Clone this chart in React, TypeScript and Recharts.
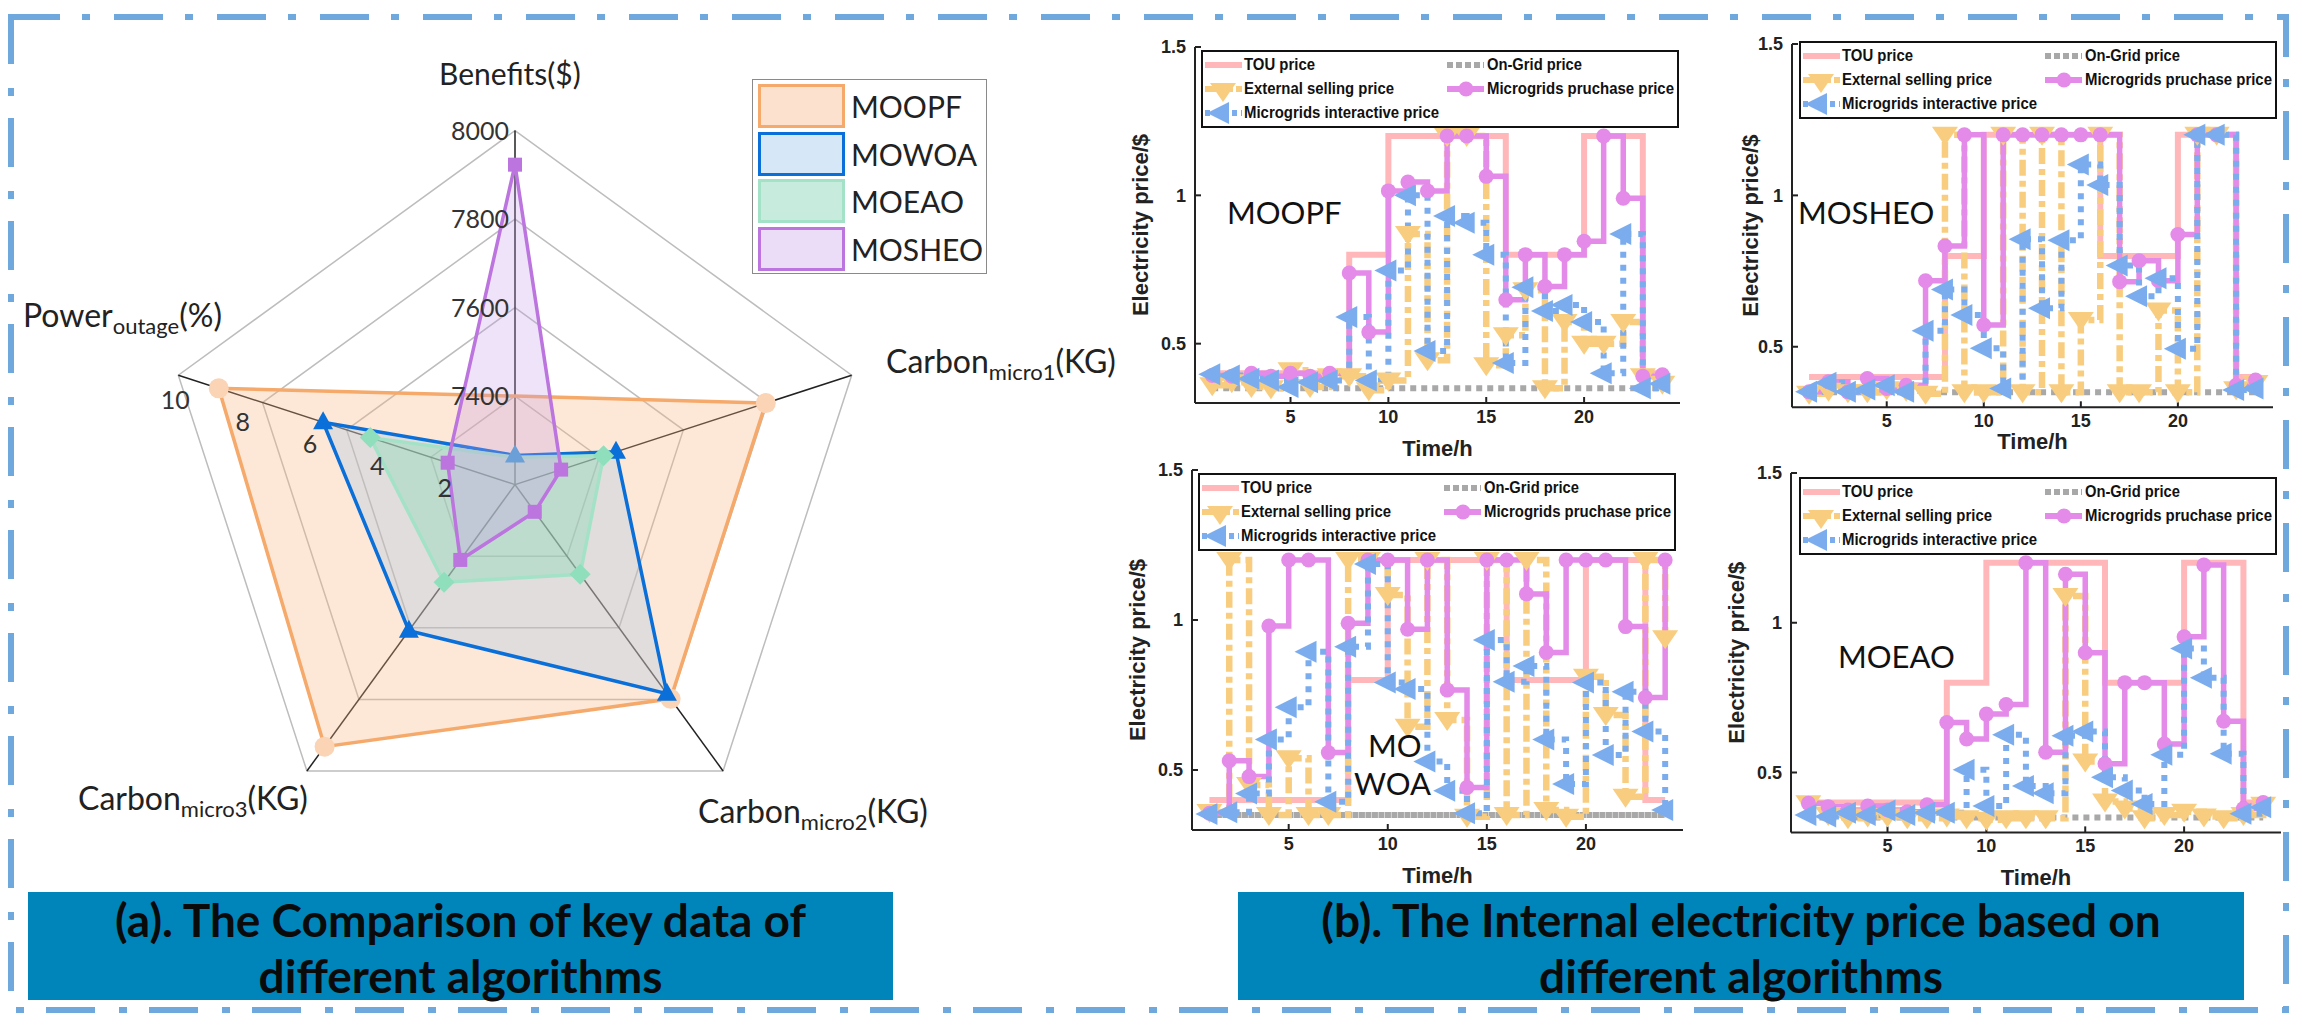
import {
  Line,
  LineChart,
  PolarAngleAxis,
  PolarGrid,
  PolarRadiusAxis,
  Radar,
  RadarChart,
  XAxis,
  YAxis,
} from "recharts";

// ---- panel (a) radar ----
const radarAxes = ["Benefits", "Carbon1", "Carbon2", "Carbon3", "Power"];
const axisMin = [7200, 0, 0, 0, 0];
const axisMax = [8000, 100, 100, 100, 10];

const moopfKey = [7400, 74.5, 74.8, 91.5, 8.8];
const mowoaKey = [7266, 30, 73, 51, 5.7];
const moeaoKey = [7262, 26.3, 31.3, 34.1, 4.3];
const mosheoKey = [7923, 13.7, 9.5, 26.3, 2.0];

const benefitTicks = [0.25, 0.5, 0.75, 1];
const benefitLabels = ["7400", "7600", "7800", "8000"];
const powerTicks = [2, 4, 6, 8, 10];

const radarRows = radarAxes.map((axis, i) => {
  const norm = (v: number) => (v - axisMin[i]) / (axisMax[i] - axisMin[i]);
  return {
    axis,
    MOOPF: norm(moopfKey[i]),
    MOWOA: norm(mowoaKey[i]),
    MOEAO: norm(moeaoKey[i]),
    MOSHEO: norm(mosheoKey[i]),
    powerScale: 10,
  };
});

const radarLegend = [
  { name: "MOOPF", stroke: "#F5A96B", fill: "#FCE2CE" },
  { name: "MOWOA", stroke: "#0A6FD8", fill: "#D6E7F7" },
  { name: "MOEAO", stroke: "#A3E2C6", fill: "#C7EBDC" },
  { name: "MOSHEO", stroke: "#BC74DE", fill: "#EBDDF7" },
];

// ---- panel (b) price charts ----
const hours = [1, 2, 3, 4, 5, 6, 7, 8, 9, 10, 11, 12, 13, 14, 15, 16, 17, 18, 19, 20, 21, 22, 23, 24];
const touPrice = [0.4, 0.4, 0.4, 0.4, 0.4, 0.4, 0.4, 0.8, 0.8, 1.2, 1.2, 1.2, 1.2, 1.2, 1.2, 0.8, 0.8, 0.8, 0.8, 1.2, 1.2, 1.2, 0.4, 0.4];
const onGridPrice = hours.map(() => 0.35);

const moopfExternal = [0.36, 0.37, 0.354, 0.35, 0.41, 0.354, 0.39, 0.39, 0.343, 0.376, 0.87, 0.444, 1.2, 1.2, 0.427, 0.528, 0.68, 0.35, 0.573, 0.5, 0.5, 0.573, 0.39, 0.365];
const moopfPurchase = [0.393, 0.39, 0.4, 0.39, 0.4, 0.39, 0.4, 0.738, 0.539, 1.015, 1.045, 1.015, 1.2, 1.2, 1.064, 0.648, 0.8, 0.693, 0.8, 0.845, 1.2, 0.99, 0.39, 0.395];
const moopfInteractive = [0.397, 0.393, 0.382, 0.376, 0.354, 0.37, 0.376, 0.59, 0.376, 0.747, 1.0, 0.475, 0.93, 0.908, 0.8, 0.435, 0.69, 0.61, 0.63, 0.573, 0.4, 0.87, 0.35, 0.365];

const mosheoExternal = [0.345, 0.355, 0.35, 0.35, 0.36, 0.355, 0.345, 1.2, 0.35, 0.35, 1.2, 0.35, 1.2, 0.35, 0.588, 1.2, 0.35, 0.35, 0.62, 0.35, 1.2, 1.2, 0.36, 0.38];
const mosheoPurchase = [0.351, 0.384, 0.351, 0.395, 0.362, 0.373, 0.718, 0.833, 1.2, 0.572, 1.2, 1.2, 1.2, 1.2, 1.2, 1.2, 0.715, 0.784, 0.718, 0.871, 1.2, 1.2, 0.373, 0.39];
const mosheoInteractive = [0.351, 0.381, 0.351, 0.359, 0.373, 0.351, 0.553, 0.689, 0.605, 0.495, 0.362, 0.855, 0.627, 0.852, 1.102, 1.034, 0.768, 0.667, 0.726, 0.493, 1.2, 1.2, 0.357, 0.362];

const mowoaExternal = [0.36, 1.2, 0.45, 0.35, 0.539, 0.35, 0.35, 1.2, 1.2, 1.083, 0.644, 1.2, 0.667, 0.344, 1.2, 0.35, 1.2, 0.367, 0.344, 0.811, 0.683, 0.411, 1.2, 0.939];
const mowoaPurchase = [0.356, 0.531, 0.478, 0.98, 1.2, 1.2, 0.558, 0.989, 1.2, 1.2, 0.969, 1.2, 0.767, 0.442, 1.2, 1.2, 1.087, 0.892, 1.2, 1.2, 1.2, 0.978, 0.742, 1.2];
const mowoaInteractive = [0.353, 0.359, 0.422, 0.602, 0.709, 0.894, 0.394, 0.911, 1.187, 0.792, 0.77, 0.528, 0.431, 0.356, 0.933, 0.794, 0.847, 0.602, 0.453, 0.792, 0.55, 0.761, 0.628, 0.367];

const moeaoExternal = [0.397, 0.358, 0.347, 0.353, 0.353, 0.347, 0.347, 0.353, 0.347, 0.342, 0.347, 0.347, 0.347, 1.089, 0.537, 0.403, 0.38, 0.347, 0.358, 0.369, 0.353, 0.347, 0.358, 0.392];
const moeaoPurchase = [0.397, 0.386, 0.375, 0.388, 0.375, 0.369, 0.392, 0.667, 0.612, 0.695, 0.727, 1.2, 0.568, 1.162, 0.9, 0.529, 0.8, 0.8, 0.595, 0.953, 1.193, 0.671, 0.38, 0.4];
const moeaoInteractive = [0.358, 0.353, 0.366, 0.358, 0.373, 0.358, 0.366, 0.366, 0.509, 0.388, 0.626, 0.455, 0.431, 0.623, 0.637, 0.484, 0.44, 0.395, 0.559, 0.914, 0.816, 0.563, 0.362, 0.384];

const xTicks = [5, 10, 15, 20];
const yTicks = [0.5, 1, 1.5];

const TOU = "#FFB7BA";
const GRID = "#A8A8A8";
const EXT = "#F9CD7F";
const BUY = "#E48AE8";
const MG = "#7BADEE";
const FRAME = "#6FA8DC";
const BANNER = "#0085BA";
const SANS = "'Liberation Sans', Arial, sans-serif";
const HUMAN = "Lato, 'Open Sans', sans-serif";

const leftTriangle = (x: number, y: number) => `M${x - 14},${y} L${x + 8},${y - 11} L${x + 8},${y + 11} Z`;
const downTriangle = (x: number, y: number) => `M${x - 13},${y - 8} L${x + 13},${y - 8} L${x},${y + 11} Z`;

function ExtDot(p: any) {
  return <path key={p.index} d={downTriangle(p.cx, p.cy)} fill={EXT} />;
}
function BuyDot(p: any) {
  return <circle key={p.index} cx={p.cx} cy={p.cy} r={7.5} fill={BUY} />;
}
function MgDot(p: any) {
  return <path key={p.index} d={leftTriangle(p.cx, p.cy)} fill={MG} />;
}

function LegendBox() {
  const t = { fontFamily: SANS, fontSize: 17, fontWeight: 700, fill: "#111" } as const;
  return (
    <svg width={478} height={78} style={{ display: "block", overflow: "visible" }}>
      <rect x={1} y={1} width={476} height={76} fill="#fff" stroke="#111" strokeWidth={2} />
      <line x1={4} x2={41} y1={15} y2={15} stroke={TOU} strokeWidth={6} />
      <text x={43} y={20} textLength={71} lengthAdjust="spacingAndGlyphs" {...t}>TOU price</text>
      <line x1={246} x2={283} y1={15} y2={15} stroke={GRID} strokeWidth={6} strokeDasharray="6 3" />
      <text x={286} y={20} textLength={95} lengthAdjust="spacingAndGlyphs" {...t}>On-Grid price</text>
      <line x1={4} x2={41} y1={39} y2={39} stroke={EXT} strokeWidth={6} strokeDasharray="28 3 6 3" />
      <path d={downTriangle(22, 41)} fill={EXT} />
      <text x={43} y={44} textLength={150} lengthAdjust="spacingAndGlyphs" {...t}>External selling price</text>
      <line x1={246} x2={283} y1={39} y2={39} stroke={BUY} strokeWidth={6} />
      <circle cx={265} cy={39} r={7.5} fill={BUY} />
      <text x={286} y={44} textLength={187} lengthAdjust="spacingAndGlyphs" {...t}>Microgrids pruchase price</text>
      <line x1={4} x2={41} y1={63} y2={63} stroke={MG} strokeWidth={6} strokeDasharray="5 4" />
      <path d={leftTriangle(20, 63)} fill={MG} />
      <text x={43} y={68} textLength={195} lengthAdjust="spacingAndGlyphs" {...t}>Microgrids interactive price</text>
    </svg>
  );
}

type PriceProps = {
  name: string;
  external: number[];
  purchase: number[];
  interactive: number[];
  left: number;
  right: number;
  top: number;
  bottom: number;
  titleGap: number;
  xTitleGap: number;
  legendLeft: number;
  legendTop: number;
  gridDash?: string;
};

function PriceChart(props: PriceProps) {
  const { external, purchase, interactive, left, right, top, bottom } = props;
  const rows = hours.map((h, i) => ({
    h,
    tou: touPrice[i],
    grid: onGridPrice[i],
    ext: external[i],
    buy: purchase[i],
    mg: interactive[i],
  }));
  const yW = 90;
  const xH = 70;
  const pad = 12;
  return (
    <>
      <div style={{ position: "absolute", left: left - yW, top: top - pad }}>
        <LineChart
          width={right - left + yW + pad}
          height={bottom - top + pad + xH}
          data={rows}
          margin={{ top: pad, right: pad, bottom: 0, left: 0 }}
        >
          <XAxis
            dataKey="h"
            type="number"
            domain={[0.12, 24.9]}
            ticks={xTicks}
            height={xH}
            stroke="#222"
            strokeWidth={2}
            tickSize={-6}
            tickMargin={13}
            tick={{ fontFamily: SANS, fontSize: 18, fontWeight: 700, fill: "#222" }}
            label={{
              value: "Time/h",
              position: "insideTop",
              offset: props.xTitleGap,
              style: { fontFamily: SANS, fontSize: 22, fontWeight: 700, fill: "#222" },
            }}
          />
          <YAxis
            domain={[0.3, 1.5]}
            ticks={yTicks}
            width={yW}
            stroke="#222"
            strokeWidth={2}
            tickSize={-6}
            tickMargin={15}
            tick={{ fontFamily: SANS, fontSize: 18, fontWeight: 700, fill: "#222" }}
            label={{
              value: "Electricity price/$",
              angle: -90,
              position: "insideLeft",
              offset: props.titleGap,
              style: { fontFamily: SANS, fontSize: 22, fontWeight: 700, fill: "#222", textAnchor: "middle" },
            }}
          />
          <Line dataKey="tou" type="stepAfter" stroke={TOU} strokeWidth={6} dot={false} activeDot={false} isAnimationActive={false} />
          <Line dataKey="grid" type="stepAfter" stroke={GRID} strokeWidth={6} strokeDasharray={props.gridDash ?? "6 5"} dot={false} activeDot={false} isAnimationActive={false} />
          <Line dataKey="ext" type="stepAfter" stroke={EXT} strokeWidth={6.5} strokeDasharray="16 5 6 5" dot={ExtDot} activeDot={false} isAnimationActive={false} />
          <Line dataKey="buy" type="stepAfter" stroke={BUY} strokeWidth={5.5} dot={BuyDot} activeDot={false} isAnimationActive={false} />
          <Line dataKey="mg" type="stepAfter" stroke={MG} strokeWidth={6} strokeDasharray="6 7" dot={MgDot} activeDot={false} isAnimationActive={false} />
        </LineChart>
      </div>
      <div style={{ position: "absolute", left: props.legendLeft, top: props.legendTop }}>
        <LegendBox />
      </div>
    </>
  );
}

const angleLabels: Record<string, { x: number; y: number; main: string; sub?: string; tail?: string }> = {
  Benefits: { x: 439, y: 85, main: "Benefits($)" },
  Carbon1: { x: 886, y: 373, main: "Carbon", sub: "micro1", tail: "(KG)" },
  Carbon2: { x: 698, y: 823, main: "Carbon", sub: "micro2", tail: "(KG)" },
  Carbon3: { x: 78, y: 810, main: "Carbon", sub: "micro3", tail: "(KG)" },
  Power: { x: 23, y: 327, main: "Power", sub: "outage", tail: "(%)" },
};

function AngleTick(p: any) {
  const spot = angleLabels[p.payload.value];
  return (
    <text x={spot.x} y={spot.y} fontFamily={HUMAN} fontSize={spot.sub ? 32 : 30} fill="#222">
      {spot.main}
      {spot.sub && (
        <tspan dy={7} fontSize={22}>
          {spot.sub}
        </tspan>
      )}
      {spot.tail && <tspan dy={-7}>{spot.tail}</tspan>}
    </text>
  );
}

function BenefitTick(p: any) {
  const idx = benefitTicks.indexOf(p.payload.value);
  if (idx < 0) return <g />;
  return (
    <text x={p.x - 6} y={p.y + 9} textAnchor="end" fontFamily={HUMAN} fontSize={25} fill="#333">
      {benefitLabels[idx]}
    </text>
  );
}

function PowerTick(p: any) {
  return (
    <text x={p.x - 3} y={p.y + 34} textAnchor="middle" fontFamily={HUMAN} fontSize={25} fill="#333">
      {p.payload.value}
    </text>
  );
}

// the benefits corner of MOOPF and MOEAO shows no marker, and the MOWOA one sits faded under the fills
const makeDot = (kind: string, color: string, firstColor?: string | null) => (p: any) => {
  const { cx, cy, index } = p;
  if (index === 0 && firstColor === null) return <g key={index} />;
  const fill = index === 0 && firstColor ? firstColor : color;
  if (kind === "circle") return <circle key={index} cx={cx} cy={cy} r={10} fill={fill} />;
  if (kind === "triangle") return <path key={index} d={`M${cx},${cy - 11} L${cx + 10},${cy + 7} L${cx - 10},${cy + 7} Z`} fill={fill} />;
  if (kind === "diamond") return <path key={index} d={`M${cx},${cy - 10.5} L${cx + 10.5},${cy} L${cx},${cy + 10.5} L${cx - 10.5},${cy} Z`} fill={fill} />;
  return <rect key={index} x={cx - 7} y={cy - 7} width={14} height={14} fill={fill} />;
};

function KeyDataRadar() {
  return (
    <div style={{ position: "absolute", left: 0, top: 0 }}>
      <RadarChart
        width={1125}
        height={970}
        cx={515}
        cy={484.6}
        outerRadius={354}
        data={radarRows}
        margin={{ top: 0, right: 0, bottom: 0, left: 0 }}
      >
        <PolarGrid gridType="polygon" radialLines={false} polarRadius={[88.5, 177, 265.5, 354]} stroke="#BDBDBD" strokeWidth={1.5} />
        <PolarGrid gridType="polygon" polarRadius={[]} stroke="#222" strokeWidth={1.5} />
        <PolarAngleAxis dataKey="axis" tick={AngleTick} axisLine={false} tickLine={false} />
        <PolarRadiusAxis angle={90} domain={[0, 1]} ticks={[0, ...benefitTicks] as any} tick={BenefitTick} axisLine={false} tickLine={false} />
        <PolarRadiusAxis radiusAxisId="power" angle={162} domain={[0, 10]} ticks={powerTicks as any} tick={PowerTick} axisLine={false} tickLine={false} />
        <Radar radiusAxisId="power" dataKey="powerScale" stroke="none" fill="none" dot={false} isAnimationActive={false} />
        <Radar dataKey="MOOPF" stroke="#F5A96B" strokeWidth={3.5} fill="#F9B983" fillOpacity={0.32} dot={makeDot("circle", "#FBD3B5", null)} isAnimationActive={false} />
        <Radar dataKey="MOWOA" stroke="#0A6FD8" strokeWidth={3.5} fill="#9FC5E8" fillOpacity={0.3} dot={makeDot("triangle", "#0A6FD8", "#6A9FD8")} isAnimationActive={false} />
        <Radar dataKey="MOEAO" stroke="#A3E2C6" strokeWidth={3.5} fill="#86D9B6" fillOpacity={0.38} dot={makeDot("diamond", "#8FDFBC", null)} isAnimationActive={false} />
        <Radar dataKey="MOSHEO" stroke="#BC74DE" strokeWidth={3.5} fill="#C79AE8" fillOpacity={0.28} dot={makeDot("square", "#BC74DE")} isAnimationActive={false} />
      </RadarChart>
      <div
        style={{
          position: "absolute",
          left: 752,
          top: 79,
          width: 233,
          height: 193,
          border: "1.5px solid #8A8A8A",
          background: "#fff",
        }}
      >
        {radarLegend.map((item, i) => (
          <div key={item.name} style={{ position: "absolute", left: 5, top: 5 + i * 47.5, height: 42, display: "flex", alignItems: "center" }}>
            <div style={{ width: 81, height: 38, background: item.fill, border: `3px solid ${item.stroke}` }} />
            <span style={{ marginLeft: 6, fontFamily: HUMAN, fontSize: 30, color: "#222" }}>{item.name}</span>
          </div>
        ))}
      </div>
    </div>
  );
}

function Banner({ left, width, lines }: { left: number; width: number; lines: string[] }) {
  return (
    <div
      style={{
        position: "absolute",
        left,
        top: 892,
        width,
        height: 108,
        background: BANNER,
        color: "#0A0A0A",
        fontFamily: HUMAN,
        fontWeight: 700,
        fontSize: 46,
        lineHeight: "56px",
        textAlign: "center",
        whiteSpace: "nowrap",
      }}
    >
      {lines.map((l) => (
        <div key={l}>{l}</div>
      ))}
    </div>
  );
}

function ChartName({ x, y, text }: { x: number; y: number; text: string }) {
  return (
    <div style={{ position: "absolute", left: x, top: y - 30, fontFamily: HUMAN, fontSize: 31, lineHeight: "38px", color: "#111" }}>
      {text}
    </div>
  );
}

export default function App() {
  return (
    <div style={{ position: "absolute", left: 0, top: 0, width: 2302, height: 1026, background: "#fff", overflow: "hidden" }}>
      <svg width={2302} height={1026} style={{ position: "absolute", left: 0, top: 0 }}>
        <rect x={11} y={17} width={2275} height={993} fill="none" stroke={FRAME} strokeWidth={6} strokeDasharray="49 22 8 24" />
      </svg>
      <KeyDataRadar />
      <PriceChart name="MOOPF" external={moopfExternal} purchase={moopfPurchase} interactive={moopfInteractive} left={1195} right={1680} top={46.7} bottom={402.7} titleGap={35} xTitleGap={37} legendLeft={1201} legendTop={50} />
      <PriceChart name="MOSHEO" external={mosheoExternal} purchase={mosheoPurchase} interactive={mosheoInteractive} left={1792} right={2273} top={44} bottom={407.3} titleGap={48} xTitleGap={26} legendLeft={1799} legendTop={41} />
      <PriceChart name="MOWOA" external={mowoaExternal} purchase={mowoaPurchase} interactive={mowoaInteractive} left={1192} right={1683} top={470} bottom={830} titleGap={35} xTitleGap={37} legendLeft={1198} legendTop={473} gridDash="6 0.5" />
      <PriceChart name="MOEAO" external={moeaoExternal} purchase={moeaoPurchase} interactive={moeaoInteractive} left={1791} right={2281} top={473.3} bottom={832.7} titleGap={35} xTitleGap={37} legendLeft={1799} legendTop={477} />
      <ChartName x={1227} y={223} text="MOOPF" />
      <ChartName x={1798} y={223} text="MOSHEO" />
      <ChartName x={1368} y={756} text="MO" />
      <ChartName x={1354} y={794} text="WOA" />
      <ChartName x={1838} y={667} text="MOEAO" />
      <Banner left={28} width={865} lines={["(a). The Comparison of key data of", "different algorithms"]} />
      <Banner left={1238} width={1006} lines={["(b). The Internal electricity price based on", "different algorithms"]} />
    </div>
  );
}
